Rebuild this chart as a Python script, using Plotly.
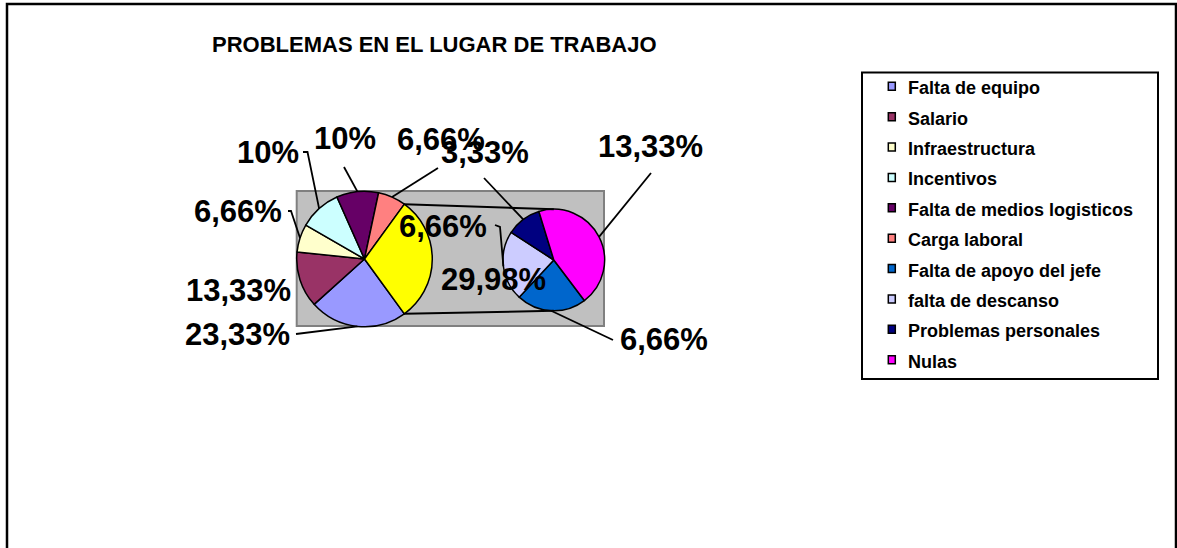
import math
import plotly.graph_objects as go

# ---------------- data ----------------
title = "PROBLEMAS EN EL LUGAR DE TRABAJO"
main_labels = ["Falta de equipo", "Salario", "Infraestructura", "Incentivos",
               "Falta de medios logisticos", "Carga laboral", "Otros"]
main_values = [23.33, 13.33, 6.66, 10, 10, 6.66, 29.98]
sec_labels = ["Falta de apoyo del jefe", "falta de descanso",
              "Problemas personales", "Nulas"]
sec_values = [6.66, 6.66, 3.33, 13.33]
legend_labels = main_labels[:6] + sec_labels

# ---------------- styles / layout ----------------
main_colors = ["#9999FF", "#993366", "#FFFFCC", "#CCFFFF", "#660066", "#FF8080", "#FFFF00"]
sec_colors = ["#0066CC", "#CCCCFF", "#000080", "#FF00FF"]
legend_colors = main_colors[:6] + sec_colors

W, H = 1177, 548
MAIN_C, MAIN_R = (364.5, 259.0), 67.8
SEC_C, SEC_R = (553.8, 260.0), 50.8
SEC_ROT = 143
FONT = "Liberation Sans, Arial, sans-serif"
LBL_SIZE = 31

# label text centres (px) and leader-line start points (px)
main_label_pos = [(237.5, 334.5), (239, 290.5), (238.3, 211), (268.3, 153),
                  (345, 139), (441, 139.5), (493.3, 279.5)]
main_leaders = [[(296, 334)], None, [(288, 211), (291, 211)], [(303, 152), (307.5, 152)],
                [(344, 167)], [(438, 168)], None]
sec_label_pos = [(664, 339), (443.3, 227), (485, 152), (650.5, 146)]
sec_leaders = [[(613, 340)], [(495, 225), (500, 227)], [(484, 178)], [(651, 173)]]


def px(x):
    return x / W


def py(y):
    return 1 - y / H


def fmt(v):
    s = f"{v:.2f}".rstrip("0").rstrip(".")
    return s.replace(".", ",") + "%"


# main rotation so the "other" slice is centred at 3 o'clock
tot = sum(main_values)
MAIN_ROT = 90 - 360 * (sum(main_values[:-1]) + main_values[-1] / 2) / tot


def edge(c, r, rot, values, i, frac=0.5):
    a = math.radians(rot + 360 * (sum(values[:i]) + frac * values[i]) / sum(values))
    return (c[0] + r * math.sin(a), c[1] - r * math.cos(a))


def dom(c, r):
    return dict(x=[px(c[0] - r), px(c[0] + r)], y=[py(c[1] + r), py(c[1] - r)])


fig = go.Figure()
fig.add_trace(go.Pie(labels=main_labels, values=main_values, sort=False,
                     direction="clockwise", rotation=MAIN_ROT,
                     marker=dict(colors=main_colors, line=dict(color="black", width=1.5)),
                     textinfo="none", hoverinfo="label+percent",
                     domain=dom(MAIN_C, MAIN_R), showlegend=False))
fig.add_trace(go.Pie(labels=sec_labels, values=sec_values, sort=False,
                     direction="clockwise", rotation=SEC_ROT,
                     marker=dict(colors=sec_colors, line=dict(color="black", width=1.5)),
                     textinfo="none", hoverinfo="label+value",
                     domain=dom(SEC_C, SEC_R), showlegend=False))

shapes = []
annotations = []

# chart border
shapes.append(dict(type="rect", xref="paper", yref="paper", x0=px(7), x1=px(1176),
                   y0=py(570), y1=py(4), line=dict(color="black", width=2.5), layer="below"))
# plot area
shapes.append(dict(type="rect", xref="paper", yref="paper", x0=px(296.7), x1=px(604),
                   y0=py(326), y1=py(191), fillcolor="#C0C0C0",
                   line=dict(color="#808080", width=2), layer="below"))

# connector lines between the pies
n = len(main_values) - 1
p_top = edge(MAIN_C, MAIN_R, MAIN_ROT, main_values, n, 0)
p_bot = edge(MAIN_C, MAIN_R, MAIN_ROT, main_values, n, 1)
s_top = (SEC_C[0], SEC_C[1] - SEC_R)
s_bot = (SEC_C[0], SEC_C[1] + SEC_R)
for a, b in [(p_top, s_top), (p_bot, s_bot)]:
    shapes.append(dict(type="line", xref="paper", yref="paper", x0=px(a[0]), y0=py(a[1]),
                       x1=px(b[0]), y1=py(b[1]), line=dict(color="black", width=2)))


def add_labels(c, r, rot, values, positions, leaders):
    for i, v in enumerate(values):
        x, y = positions[i]
        annotations.append(dict(xref="paper", yref="paper", x=px(x), y=py(y),
                                xanchor="center", yanchor="middle", showarrow=False,
                                text=fmt(v),
                                font=dict(family=FONT, size=LBL_SIZE, color="black", weight="bold")))
        if leaders[i]:
            pts = leaders[i] + [edge(c, r, rot, values, i)]
            path = "M " + " L ".join(f"{px(a)},{py(b)}" for a, b in pts)
            shapes.append(dict(type="path", xref="paper", yref="paper", path=path,
                               line=dict(color="black", width=1.8)))


add_labels(MAIN_C, MAIN_R, MAIN_ROT, main_values, main_label_pos, main_leaders)
add_labels(SEC_C, SEC_R, SEC_ROT, sec_values, sec_label_pos, sec_leaders)

# title
annotations.append(dict(xref="paper", yref="paper", x=px(434.5), y=py(44),
                        xanchor="center", yanchor="middle", showarrow=False, text=title,
                        font=dict(family=FONT, size=22, color="black", weight="bold")))

# legend (manual, Excel style)
shapes.append(dict(type="rect", xref="paper", yref="paper", x0=px(862), x1=px(1158),
                   y0=py(379), y1=py(72.5), line=dict(color="black", width=2),
                   fillcolor="white"))
for i, (lab, col) in enumerate(zip(legend_labels, legend_colors)):
    yc = 88.3 + i * 30.38
    shapes.append(dict(type="rect", xref="paper", yref="paper", x0=px(888.3), x1=px(895.3),
                       y0=py(yc + 2.0), y1=py(yc - 6.0), fillcolor=col,
                       line=dict(color="black", width=1.5)))
    annotations.append(dict(xref="paper", yref="paper", x=px(906), y=py(yc),
                            xanchor="left", yanchor="middle", showarrow=False, text=lab,
                            font=dict(family=FONT, size=18, color="black", weight="bold")))

fig.update_layout(width=W, height=H, margin=dict(l=0, r=0, t=0, b=0),
                  paper_bgcolor="white", plot_bgcolor="white", showlegend=False,
                  shapes=shapes, annotations=annotations)

fig.write_html("out.html", config={"displayModeBar": False},
               post_script="document.body.style.margin='0';document.body.style.overflow='hidden';")
